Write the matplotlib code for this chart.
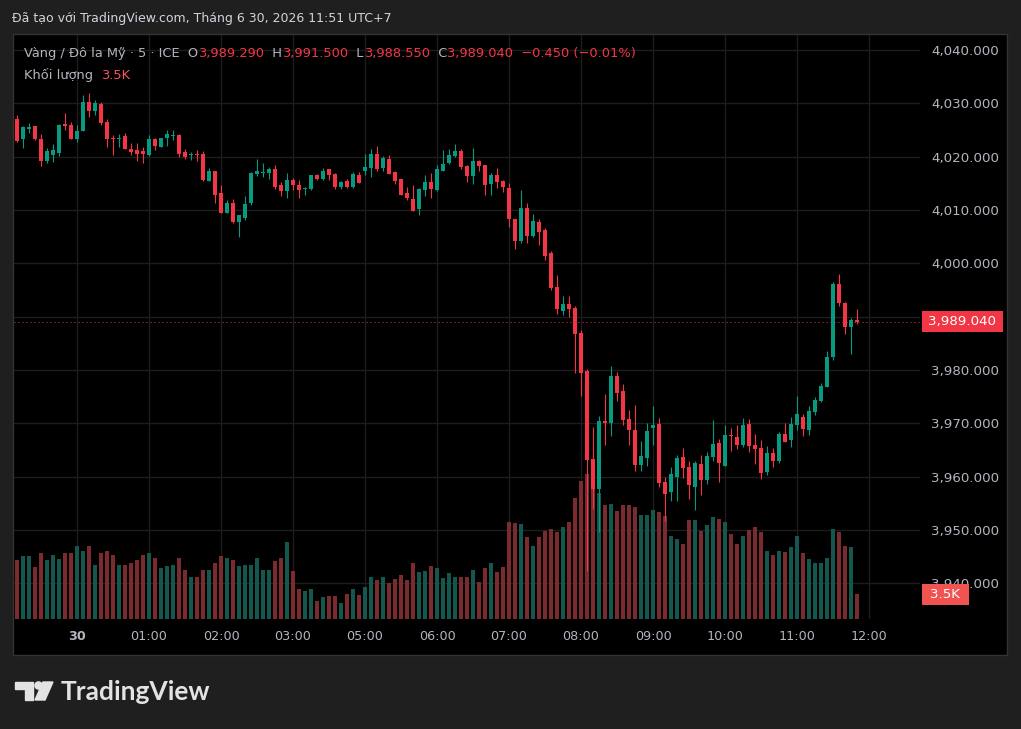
import matplotlib
matplotlib.use("Agg")
import matplotlib.pyplot as plt
from matplotlib.patches import Rectangle, Polygon, Circle
from matplotlib.transforms import blended_transform_factory
import numpy as np

W, H = 1021, 729

# 5-minute bars, index 0 = 00:00 on the 30th (market closed 04:00-05:00)
bar_idx = np.arange(-10, 131)

opens = [4027.1, 4023.25, 4025.2, 4025.7, 4023.4, 4019.2, 4020.4, 4020.7, 4026.1, 4025.9,
         4023.4, 4024.9, 4030.2, 4028.5, 4029.8, 4026.6, 4023.6, 4023.4, 4023.8, 4021.4,
         4021.2, 4021.0, 4020.4, 4023.4, 4021.75, 4023.6, 4023.8, 4024.0, 4020.8, 4020.4,
         4020.6, 4020.6, 4015.4, 4017.4, 4013.1, 4009.4, 4011.4, 4007.8, 4008.5, 4011.25,
         4016.75, 4017.0, 4016.9, 4017.6, 4014.6, 4013.5, 4015.6, 4014.6, 4013.9, 4013.9,
         4016.5, 4015.75, 4017.6, 4016.7, 4014.4, 4015.4, 4014.25, 4016.5, 4017.25, 4017.8,
         4020.6, 4017.8, 4019.5, 4017.1, 4015.75, 4013.1, 4012.0, 4010.1, 4013.7, 4015.2,
         4013.7, 4017.4, 4018.75, 4020.1, 4021.0, 4018.2, 4016.3, 4019.1, 4018.4, 4014.8,
         4016.5, 4015.4, 4014.1, 4008.25, 4004.1, 4010.3, 4005.1, 4007.7, 4006.2, 4001.9,
         3995.5, 3991.0, 3992.3, 3991.6, 3986.9, 3979.75, 3963.25, 3957.6, 3970.4, 3970.0,
         3978.8, 3976.0, 3970.75, 3968.7, 3962.1, 3963.4, 3969.1, 3969.8, 3958.9, 3957.1,
         3959.9, 3963.6, 3961.75, 3958.0, 3962.3, 3959.3, 3963.6, 3966.25, 3961.9, 3967.75,
         3967.4, 3965.9, 3969.8, 3965.9, 3965.3, 3960.8, 3964.4, 3962.9, 3967.9, 3966.8,
         3969.6, 3971.1, 3968.7, 3972.1, 3974.1, 3976.75, 3982.4, 3996.1, 3992.5, 3988.0,
         3989.29]
highs = [4027.75, 4025.7, 4026.4, 4025.7, 4024.2, 4021.6, 4022.3, 4026.2, 4028.2, 4026.6,
         4025.9, 4031.5, 4031.9, 4030.6, 4030.2, 4027.0, 4024.0, 4024.2, 4024.4, 4022.5,
         4022.5, 4021.9, 4024.0, 4023.6, 4023.6, 4025.1, 4025.1, 4024.2, 4021.4, 4020.8,
         4021.2, 4021.0, 4017.8, 4017.4, 4014.6, 4011.8, 4012.0, 4009.0, 4012.6, 4017.1,
         4019.5, 4018.75, 4018.0, 4018.4, 4015.2, 4016.9, 4016.0, 4015.6, 4014.4, 4016.5,
         4016.7, 4017.8, 4017.6, 4016.9, 4015.5, 4015.75, 4017.1, 4017.1, 4020.6, 4021.4,
         4022.1, 4020.1, 4020.4, 4017.4, 4015.75, 4014.25, 4014.6, 4014.1, 4016.5, 4016.9,
         4018.4, 4021.2, 4021.4, 4022.3, 4021.4, 4018.4, 4021.6, 4019.3, 4018.4, 4016.9,
         4017.8, 4015.6, 4015.0, 4008.25, 4013.7, 4011.4, 4009.2, 4008.4, 4006.6, 4002.25,
         3997.75, 3993.8, 3993.8, 3991.9, 3987.4, 3980.1, 3969.25, 3971.3, 3975.4, 3980.7,
         3979.6, 3977.3, 3972.4, 3973.4, 3966.6, 3970.0, 3973.2, 3970.9, 3959.9, 3961.75,
         3964.0, 3965.3, 3962.9, 3962.9, 3964.0, 3964.6, 3970.6, 3967.0, 3969.6, 3969.1,
         3969.6, 3970.9, 3970.75, 3967.9, 3966.8, 3965.7, 3965.3, 3968.3, 3970.0, 3971.1,
         3975.1, 3971.7, 3973.2, 3974.9, 3977.5, 3983.5, 3996.4, 3997.9, 3992.7, 3989.7,
         3991.5]
lows = [4022.8, 4021.6, 4024.4, 4023.1, 4018.2, 4018.8, 4019.0, 4020.1, 4025.1, 4023.25,
        4022.75, 4024.75, 4027.4, 4027.75, 4025.9, 4021.9, 4020.25, 4021.9, 4021.4, 4020.25,
        4019.1, 4018.9, 4020.1, 4021.2, 4021.75, 4022.1, 4023.1, 4019.9, 4019.5, 4019.3,
        4019.1, 4015.4, 4015.4, 4011.4, 4009.4, 4009.4, 4007.5, 4004.9, 4008.1, 4011.0,
        4016.4, 4016.1, 4015.75, 4014.0, 4012.6, 4012.2, 4013.7, 4012.2, 4012.9, 4013.7,
        4015.6, 4015.6, 4015.6, 4014.0, 4013.9, 4014.1, 4014.1, 4015.0, 4016.5, 4016.1,
        4017.25, 4017.25, 4016.7, 4014.8, 4012.75, 4011.8, 4009.75, 4009.0, 4012.6, 4012.2,
        4013.5, 4017.25, 4018.6, 4019.9, 4017.6, 4015.2, 4014.8, 4017.4, 4012.9, 4012.75,
        4014.1, 4013.3, 4006.9, 4002.6, 4003.75, 4003.9, 4004.9, 4003.4, 4000.6, 3994.9,
        3990.4, 3990.25, 3989.9, 3979.4, 3975.1, 3942.25, 3953.9, 3949.6, 3965.9, 3967.6,
        3974.1, 3969.6, 3965.9, 3961.0, 3961.0, 3961.9, 3965.9, 3958.0, 3951.6, 3955.4,
        3955.4, 3959.7, 3955.75, 3953.7, 3956.5, 3958.6, 3962.9, 3958.9, 3961.9, 3964.8,
        3965.1, 3965.5, 3964.6, 3962.3, 3959.5, 3960.25, 3961.75, 3962.5, 3966.4, 3965.5,
        3968.7, 3967.6, 3967.75, 3971.5, 3973.9, 3976.75, 3981.8, 3991.9, 3986.7, 3982.9,
        3988.55]
closes = [4022.9, 4025.5, 4025.5, 4023.25, 4019.2, 4021.1, 4021.2, 4025.9, 4025.7, 4023.4,
          4024.9, 4030.2, 4028.5, 4030.0, 4026.25, 4023.4, 4023.25, 4023.6, 4021.5, 4020.8,
          4020.6, 4020.6, 4023.4, 4022.1, 4023.6, 4024.2, 4024.0, 4020.6, 4019.9, 4020.6,
          4020.4, 4015.6, 4017.4, 4012.9, 4009.4, 4011.4, 4007.7, 4009.0, 4011.1, 4016.9,
          4017.25, 4017.1, 4017.6, 4014.4, 4013.5, 4015.6, 4014.6, 4013.7, 4014.1, 4016.5,
          4015.9, 4017.4, 4016.5, 4014.25, 4015.3, 4014.25, 4016.7, 4015.0, 4018.0, 4020.6,
          4017.6, 4019.7, 4016.7, 4015.4, 4012.9, 4012.2, 4009.9, 4013.9, 4015.2, 4013.9,
          4017.6, 4018.6, 4020.4, 4021.0, 4018.0, 4016.3, 4019.1, 4018.2, 4014.6, 4016.5,
          4015.2, 4014.4, 4008.25, 4004.1, 4010.3, 4005.1, 4007.9, 4005.8, 4001.3, 3995.3,
          3991.4, 3992.3, 3991.4, 3986.7, 3979.4, 3963.1, 3957.6, 3970.4, 3970.0, 3978.8,
          3975.6, 3970.6, 3968.7, 3962.1, 3963.8, 3968.5, 3969.7, 3958.75, 3956.7, 3960.4,
          3963.4, 3961.6, 3958.4, 3962.5, 3959.3, 3963.8, 3966.1, 3962.5, 3967.75, 3967.6,
          3965.9, 3969.6, 3965.7, 3965.1, 3960.6, 3964.4, 3962.9, 3967.9, 3966.4, 3969.8,
          3971.7, 3968.9, 3972.25, 3974.3, 3976.9, 3982.4, 3996.1, 3992.5, 3988.0, 3989.3,
          3989.04]
# volume in thousands
volume_k = [8.3, 8.9, 8.9, 7.3, 9.4, 8.3, 9.0, 8.5, 9.3, 9.3,
            10.3, 9.6, 10.3, 7.6, 9.4, 9.6, 9.0, 7.6, 7.6, 7.9,
            8.3, 9.0, 9.4, 8.7, 7.2, 7.5, 7.6, 8.6, 6.9, 5.9,
            6.0, 7.0, 7.0, 8.0, 8.9, 8.6, 8.3, 7.5, 7.6, 7.6,
            8.7, 6.9, 6.9, 8.2, 8.7, 10.9, 6.8, 4.2, 3.9, 4.2,
            2.6, 3.1, 3.2, 3.2, 2.2, 3.5, 4.2, 3.4, 4.6, 5.9,
            5.5, 6.0, 5.1, 5.6, 6.3, 5.5, 8.0, 6.6, 6.8, 7.5,
            7.2, 5.8, 6.5, 5.9, 5.9, 5.9, 6.9, 5.3, 7.2, 8.0,
            6.6, 7.3, 13.8, 13.6, 13.4, 11.6, 10.4, 11.6, 12.4, 12.7,
            12.3, 13.0, 13.8, 17.1, 19.5, 20.6, 19.1, 17.8, 16.1, 16.3,
            15.3, 16.1, 16.1, 15.8, 14.7, 14.7, 15.5, 15.1, 14.6, 11.7,
            11.4, 10.6, 14.0, 14.0, 12.4, 13.3, 14.4, 14.1, 13.8, 12.0,
            10.6, 11.7, 12.6, 13.1, 12.3, 9.7, 9.0, 9.7, 9.5, 10.2,
            11.7, 9.3, 8.5, 8.0, 7.9, 8.7, 12.7, 12.3, 10.4, 10.2,
            3.5]

time_ticks = [0, 12, 24, 36, 48, 60, 72, 84, 96, 108, 120, 132]
time_labels = ["30", "01:00", "02:00", "03:00", "05:00", "06:00", "07:00",
               "08:00", "09:00", "10:00", "11:00", "12:00"]
price_ticks = [3940, 3950, 3960, 3970, 3980, 3990, 4000, 4010, 4020, 4030, 4040]
last_price = 3989.04
last_vol = 3.5

BG = "#1f1f1f"
UP, DOWN = "#089981", "#f23645"
VOL_UP, VOL_DOWN = "#14574f", "#7b2a2d"
GRID = "#1d1d1d"
TXT = "#b2b5be"

o, h, l, c = map(np.array, (opens, highs, lows, closes))
up = c >= o

fig = plt.figure(figsize=(W / 100, H / 100), dpi=100, facecolor=BG)

# background / frame layer in pixel coordinates
bg = fig.add_axes([0, 0, 1, 1])
bg.set_xlim(0, W)
bg.set_ylim(H, 0)
bg.axis("off")
bg.add_patch(Rectangle((13, 34), 994, 621, facecolor="black", edgecolor="#333333", lw=1))
bg.text(12, 18, "Đã tạo với TradingView.com, Tháng 6 30, 2026 11:51 UTC+7",
        color="#d1d4dc", fontsize=9, va="center", ha="left")

# TradingView logo
logo = "#e3e3e3"
bg.add_patch(Polygon([(15, 682), (33, 682), (33, 700), (25, 700), (25, 688.5), (15, 688.5)],
                     closed=True, color=logo))
bg.add_patch(Circle((38.5, 685.5), 3.6, color=logo))
bg.add_patch(Polygon([(43, 682), (53, 682), (45, 700), (35, 700)], closed=True, color=logo))
bg.text(61, 692, "TradingView", color=logo, fontsize=19, fontweight="bold",
        family="Lato", va="center", ha="left")


def px_rect(x0, y0, x1, y1):
    return [x0 / W, 1 - y1 / H, (x1 - x0) / W, (y1 - y0) / H]


rect = px_rect(14, 35, 920, 619)
p_hi = 4000 + (263.3 - 35) / 5.33
p_lo = 4000 - (619 - 263.3) / 5.33

ax_grid = fig.add_axes(rect)
ax_grid.set_xlim(-10.5, 140.5)
ax_grid.set_ylim(p_lo, p_hi)
ax_grid.axis("off")
for p in price_ticks:
    ax_grid.axhline(p, color=GRID, lw=1)
for t in time_ticks:
    ax_grid.axvline(t, color=GRID, lw=1)

ax_vol = fig.add_axes(rect, sharex=ax_grid)
ax_vol.patch.set_visible(False)
ax_vol.bar(bar_idx, volume_k, width=0.8,
           color=[VOL_UP if u else VOL_DOWN for u in up], linewidth=0)
ax_vol.set_ylim(0, 584 / (24.7 / 3.5))
ax_vol.axis("off")

ax = fig.add_axes(rect, sharex=ax_grid, sharey=ax_grid)
ax.patch.set_visible(False)
cols = np.where(up, UP, DOWN)
ax.vlines(bar_idx, l, h, colors=cols, lw=0.8)
body = np.maximum(np.abs(c - o), 0.18)
ax.bar(bar_idx, body, bottom=np.minimum(o, c), width=0.8, color=cols, linewidth=0)
ax.axhline(last_price, color=DOWN, lw=0.72, linestyle=(0, (1, 3)))

for s in ax.spines.values():
    s.set_visible(False)
ax.yaxis.tick_right()
# the 3,990 label sits under the last-price badge, so it is not shown
ax.set_yticks(price_ticks, ["" if p == 3990 else f"{p:,.3f}" for p in price_ticks])
ax.set_xticks(time_ticks, time_labels)
ax.tick_params(axis="y", length=0, pad=8, labelsize=9.6, labelcolor=TXT)
ax.tick_params(axis="x", length=0, pad=8, labelsize=9.2, labelcolor=TXT)
ax.get_xticklabels()[0].set_fontweight("bold")

# last price / last volume badges on the price scale
yt = blended_transform_factory(ax.transAxes, ax.transData)
ax.add_patch(Rectangle((1.0022, last_price - 2.0), 0.0894, 4.0, transform=yt,
                       facecolor=DOWN, edgecolor="none", clip_on=False, zorder=5))
ax.text(1.0469, last_price, f"{last_price:,.3f}", transform=yt, color="white",
        fontsize=9.6, ha="center", va="center", zorder=6, clip_on=False)
vt = blended_transform_factory(ax.transAxes, ax_vol.transData)
ax.add_patch(Rectangle((1.0022, last_vol - 1.49), 0.0519, 2.98, transform=vt,
                       facecolor="#f05350", edgecolor="none", clip_on=False, zorder=5))
ax.text(1.028, last_vol, f"{last_vol}K", transform=vt, color="white",
        fontsize=9.6, ha="center", va="center", zorder=6, clip_on=False)

# legend overlay in pixel coordinates
fg = fig.add_axes([0, 0, 1, 1])
fg.set_xlim(0, W)
fg.set_ylim(H, 0)
fg.axis("off")
fg.patch.set_visible(False)
renderer = fig.canvas.get_renderer()


def put_pieces(x, y, pieces):
    for s, col in pieces:
        t = fg.text(x, y, s, color=col, fontsize=9.4, va="center", ha="left")
        x += t.get_window_extent(renderer).width


put_pieces(24, 53, [("Vàng / Đô la Mỹ · 5 · ICE  O", TXT), ("3,989.290", DOWN),
                    ("  H", TXT), ("3,991.500", DOWN), ("  L", TXT), ("3,988.550", DOWN),
                    ("  C", TXT), ("3,989.040  −0.450 (−0.01%)", DOWN)])
put_pieces(24, 75, [("Khối lượng  ", TXT), ("3.5K", "#f7525f")])

fig.savefig("out.png", dpi=100, facecolor=BG)
